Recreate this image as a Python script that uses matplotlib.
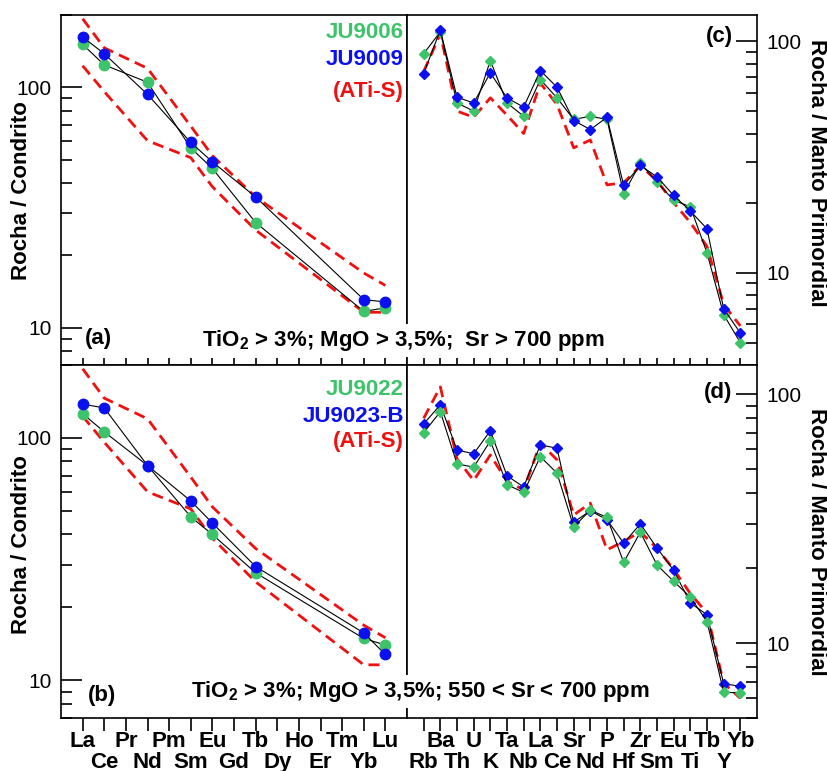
import numpy as np
import matplotlib as mpl
import matplotlib.pyplot as plt
from matplotlib.ticker import LogLocator, NullFormatter, FixedLocator, FixedFormatter

mpl.use('AGG')

plt.rcParams['font.family'] = ['Liberation Sans', 'DejaVu Sans']
plt.rcParams['mathtext.fontset'] = 'custom'
plt.rcParams['mathtext.rm'] = 'Liberation Sans'
plt.rcParams['mathtext.bf'] = 'Liberation Sans:bold'

# -------------------------------------------------------------------------------------------------
# Data: REE (chondrite normalised)
ree_labels = ['La', 'Ce', 'Pr', 'Nd', 'Pm', 'Sm', 'Eu', 'Gd', 'Tb', 'Dy', 'Ho', 'Er', 'Tm', 'Yb', 'Lu']
ree_used = ['La', 'Ce', 'Nd', 'Sm', 'Eu', 'Tb', 'Yb', 'Lu']

ju9006_ree = [151, 124, 105, 56, 46, 27.4, 11.7, 12.1]
ju9009_ree = [162, 138, 93.5, 59, 49, 35, 13.1, 12.8]
ju9022_ree = [126, 106, 77, 47.3, 40, 27.8, 14.9, 14.0]
ju9023b_ree = [138, 133, 77, 55, 44.6, 29.5, 15.7, 12.8]
atis_ree_upper = [193, 146, 120, 69, 52, 35, 16.9, 15]
atis_ree_lower = [123, 96, 60, 51, 38.6, 25.5, 11.6, 11.6]

# Data: spider diagram (primitive mantle normalised)
spider_labels = ['Rb', 'Ba', 'Th', 'U', 'K', 'Ta', 'Nb', 'La', 'Ce', 'Sr',
	'Nd', 'P', 'Hf', 'Zr', 'Sm', 'Eu', 'Ti', 'Tb', 'Y', 'Yb']

ju9006_spider = [88.5, 110, 54.2, 50, 82.6, 54.2, 47.5, 68.4, 57, 46,
	47.5, 46, 22, 29.8, 24.6, 20.6, 19.3, 12.2, 6.6, 5.0]
ju9009_spider = [72.6, 112, 57.4, 54.2, 73.1, 57, 52, 74.8, 63.4, 45.5,
	41.6, 47, 23.9, 29.1, 26, 21.6, 18.5, 15.5, 7.0, 5.5]
atis_spider_c = [74, 108, 50, 47, 57, 48, 40, 66, 53.4, 34.7,
	37.5, 24, 24.5, 29, 25, 20.1, 16.5, 13, 7.3, 5.9]

ju9022_spider = [70, 85, 52.5, 50.9, 64.9, 43.3, 40.3, 56.1, 48.2, 29.3,
	34.2, 32, 21.1, 27.9, 20.6, 17.7, 15.3, 12.2, 6.35, 6.3]
ju9023b_spider = [76, 90.6, 59.7, 57.6, 71.3, 47, 42.4, 62.5, 60.7, 30.6,
	34, 31.3, 25.2, 30.1, 24.1, 19.6, 14.5, 13.0, 6.87, 6.7]
atis_spider_d = [80, 107, 55, 45, 57, 44.6, 41.3, 63.6, 54.5, 32.7,
	36.5, 23.7, 25.6, 28, 24, 19.8, 15.8, 13.2, 6.9, 6.0]

GREEN = '#3dc46a'
BLUE = '#0a10f0'
RED = '#f01010'

# -------------------------------------------------------------------------------------------------
fig = plt.figure(figsize=(8.27, 7.71), dpi=100, facecolor='white')

L, M, R = 61 / 827, 407 / 827, 757 / 827
T, MID, B = 1 - 15 / 771, 1 - 365 / 771, 1 - 718 / 771

ax_a = fig.add_axes([L, MID, M - L, T - MID])
ax_c = fig.add_axes([M, MID, R - M, T - MID])
ax_b = fig.add_axes([L, B, M - L, MID - B])
ax_d = fig.add_axes([M, B, R - M, MID - B])

ree_x = [ree_labels.index(e) + 1 for e in ree_used]
spider_x = list(range(1, len(spider_labels) + 1))


def _plot_sample(ax, x, y, color, marker, ms):
	ax.plot(x, y, color='black', linewidth=0.8, marker=marker,
		markerfacecolor=color, markeredgecolor=color, markersize=ms, zorder=3)


def _plot_field(ax, x, y):
	ax.plot(x, y, color=RED, linewidth=2.0, linestyle=(0, (4, 2.3)), zorder=2)


def _set_yaxis(ax, ylim, right=False):
	ax.set_yscale('log')
	ax.set_ylim(*ylim)
	ax.yaxis.set_major_locator(FixedLocator([10, 100]))
	ax.yaxis.set_major_formatter(FixedFormatter(['10', '100']))
	ax.yaxis.set_minor_locator(LogLocator(base=10, subs=np.arange(2, 10)))
	ax.yaxis.set_minor_formatter(NullFormatter())
	if right:
		ax.yaxis.tick_right()
		ax.yaxis.set_label_position('right')
	ax.tick_params(axis='y', which='major', direction='in', length=15, width=1.2,
		labelsize=15, pad=7)
	ax.tick_params(axis='y', which='minor', direction='in', length=8, width=1.2)


def _set_xaxis(ax, labels, n, show_labels, first_row_even=True):
	ax.set_xlim(0, n + 1)
	pos = list(range(1, n + 1))
	if not show_labels:
		ax.set_xticks(pos)
		ax.tick_params(axis='x', which='both', direction='in', length=5, width=1.2,
			labelbottom=False)
		return
	# Two staggered rows of element names: majors on row 1, minors on row 2
	row1 = [i for i in range(n) if (i % 2 == 0) == first_row_even]
	row2 = [i for i in range(n) if (i % 2 == 0) != first_row_even]
	ax.set_xticks([pos[i] for i in row1], labels=[labels[i] for i in row1],
		fontweight='bold')
	ax.set_xticks([pos[i] for i in row2], labels=[labels[i] for i in row2],
		fontweight='bold', minor=True)
	ax.tick_params(axis='x', which='both', direction='out', length=9.5, width=1.2,
		labelsize=16)
	ax.tick_params(axis='x', which='major', pad=0)
	ax.tick_params(axis='x', which='minor', pad=15)


# Panel (a) ---------->
_plot_field(ax_a, ree_x, atis_ree_upper)
_plot_field(ax_a, ree_x, atis_ree_lower)
_plot_sample(ax_a, ree_x, ju9006_ree, GREEN, 'o', 7.5)
_plot_sample(ax_a, ree_x, ju9009_ree, BLUE, 'o', 7.5)

# Panel (b) ---------->
_plot_field(ax_b, ree_x, atis_ree_upper)
_plot_field(ax_b, ree_x, atis_ree_lower)
_plot_sample(ax_b, ree_x, ju9022_ree, GREEN, 'o', 7.5)
_plot_sample(ax_b, ree_x, ju9023b_ree, BLUE, 'o', 7.5)

# Panel (c) ---------->
_plot_field(ax_c, spider_x, atis_spider_c)
_plot_sample(ax_c, spider_x, ju9006_spider, GREEN, 'D', 5.3)
_plot_sample(ax_c, spider_x, ju9009_spider, BLUE, 'D', 5.3)

# Panel (d) ---------->
_plot_field(ax_d, spider_x, atis_spider_d)
_plot_sample(ax_d, spider_x, ju9023b_spider, BLUE, 'D', 5.3)
_plot_sample(ax_d, spider_x, ju9022_spider, GREEN, 'D', 5.3)

# Axes formatting
_set_yaxis(ax_a, (7, 200))
_set_yaxis(ax_b, (7, 200))
_set_yaxis(ax_c, (4, 130), right=True)
_set_yaxis(ax_d, (5, 131), right=True)

_set_xaxis(ax_a, ree_labels, len(ree_labels), False)
_set_xaxis(ax_c, spider_labels, len(spider_labels), False)
_set_xaxis(ax_b, ree_labels, len(ree_labels), True, first_row_even=True)
_set_xaxis(ax_d, spider_labels, len(spider_labels), True, first_row_even=False)

for ax in (ax_a, ax_b, ax_c, ax_d):
	for sp in ax.spines.values():
		sp.set_linewidth(1.2)

# Axis labels
for (ax, ycoord) in ((ax_a, 0.497), (ax_b, 0.49)):
	ax.set_ylabel('Rocha / Condrito', fontsize=16, fontweight='bold', va='center')
	ax.yaxis.set_label_coords(-0.113, ycoord)
for (ax, ycoord) in ((ax_c, 0.55), (ax_d, 0.50)):
	ax.set_ylabel('Rocha / Manto Primordial', fontsize=16, fontweight='bold',
		rotation=270, va='center')
	ax.yaxis.set_label_coords(1.171, ycoord)

# Sample names
legend_top = (('JU9006', GREEN, 0.934), ('JU9009', BLUE, 0.857), ('(ATi-S)', RED, 0.766))
legend_bottom = (('JU9022', GREEN, 0.915), ('JU9023-B', BLUE, 0.839), ('(ATi-S)', RED, 0.768))
for (ax, items) in ((ax_a, legend_top), (ax_b, legend_bottom)):
	for (txt, col, yy) in items:
		ax.text(0.991, yy, txt, transform=ax.transAxes, ha='right', va='baseline',
			color=col, fontsize=16, fontweight='bold')

# Panel letters
ax_a.text(0.069, 0.06, '(a)', transform=ax_a.transAxes, fontsize=16, fontweight='bold',
	va='baseline', ha='left')
ax_b.text(0.078, 0.048, '(b)', transform=ax_b.transAxes, fontsize=16, fontweight='bold',
	va='baseline', ha='left')
ax_c.text(0.931, 0.923, '(c)', transform=ax_c.transAxes, fontsize=16, fontweight='bold',
	va='baseline', ha='right')
ax_d.text(0.929, 0.907, '(d)', transform=ax_d.transAxes, fontsize=16, fontweight='bold',
	va='baseline', ha='right')

# Conditions (white box hides the divider behind the text)
box = dict(facecolor='white', edgecolor='none', pad=3)
fig.text(0.488, 1 - 346 / 771, r'TiO$_\mathbf{2}$ > 3%; MgO > 3,5%;  Sr > 700 ppm',
	ha='center', va='baseline', fontsize=16, fontweight='bold', bbox=box)
fig.text(0.5085, 1 - 697 / 771, r'TiO$_\mathbf{2}$ > 3%; MgO > 3,5%; 550 < Sr < 700 ppm',
	ha='center', va='baseline', fontsize=16, fontweight='bold', bbox=box)

fig.savefig('out.png', dpi=100)
plt.close()
